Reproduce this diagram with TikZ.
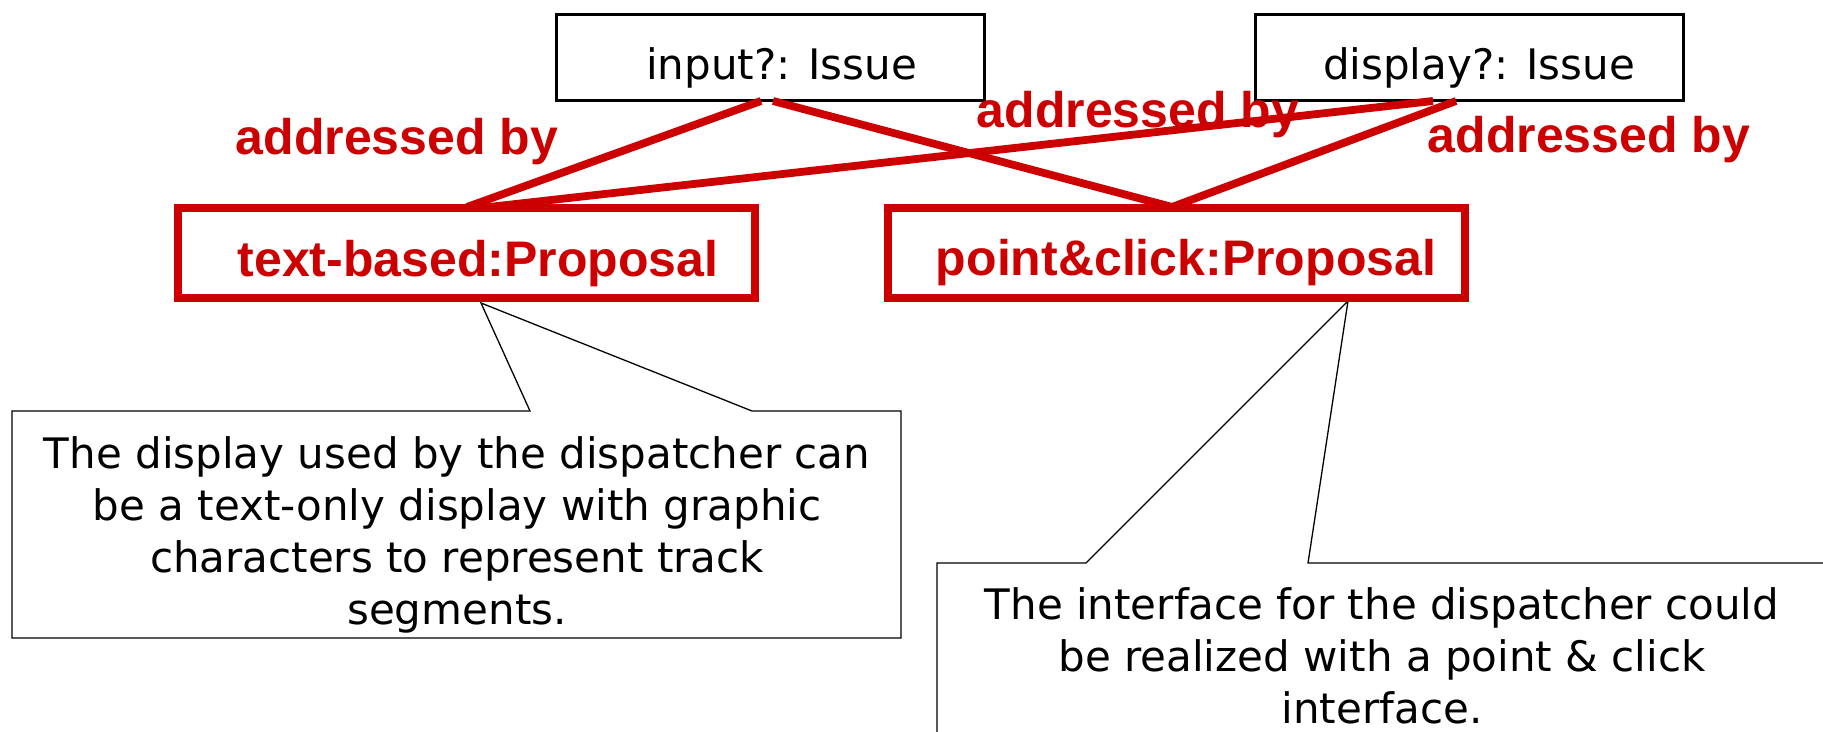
\documentclass[tikz,border=0pt]{standalone}
\usepackage{fontspec}
\setmainfont{DejaVu Sans}
\newfontfamily\arialfont{Liberation Sans}
\definecolor{myred}{RGB}{204,0,0}
\begin{document}
\begin{tikzpicture}[x=0.5pt,y=-0.5pt,
  issue/.style={draw=black,line width=1.65pt,minimum width=214pt,minimum height=43pt,inner sep=0pt,outer sep=0pt},
  proposal/.style={draw=myred,line width=4pt,minimum width=288.5pt,minimum height=45pt,inner sep=0pt,outer sep=0pt},
  lbl/.style={font=\fontsize{21}{25.75}\selectfont,inner sep=0pt,anchor=base},
  redlbl/.style={text=myred,font=\arialfont\bfseries\fontsize{25}{29}\selectfont,inner sep=0pt,anchor=base},
  link/.style={draw=myred,line width=3.9pt},
  callout/.style={draw=black,line width=0.65pt,fill=white,line join=miter},
  notetext/.style={font=\fontsize{21}{26}\selectfont,align=center,inner sep=0pt}
]
\useasboundingbox (0,0) rectangle (1823,732);
\fill[white] (0,0) rectangle (1823,732);

% callouts
\draw[callout] (12,411) -- (530,411) -- (481,303) -- (752,411) -- (901,411) -- (901,638) -- (12,638) -- cycle;
\begin{scope}
\clip (0,0) rectangle (1823,732);
\draw[callout] (937,563) -- (1086,563) -- (1348,301) -- (1308,563) -- (1840,563) -- (1840,760) -- (937,760) -- cycle;
\end{scope}
\node[notetext] (note1) at (457,535) {The display used by the dispatcher can\\be a text-only display with graphic\\characters to represent track\\segments.};
\node[notetext] (note2) at (1382,656) {The interface for the dispatcher could\\be realized with a point \& click\\interface.};

% boxes
\node[issue] (input) at (770.5,57.5) {};
\node[issue] (display) at (1469.5,57.5) {};
\node[proposal] (tb) at (466.5,253) {};
\node[proposal] (pc) at (1176.5,253) {};

% connector end points
\coordinate (inA) at (761,101);
\coordinate (inB) at (773,101);
\coordinate (diA) at (1433,101);
\coordinate (diB) at (1456,101);
\coordinate (tbA) at (467,207);
\coordinate (tbB) at (480,208);
\coordinate (pcA) at (1172,207);

\draw[link] (inA) -- (tbA);
\draw[link] (inB) -- (pcA);
\draw[link] (diA) -- (tbB);
\draw[link] (diB) -- (pcA);

% redraw proposal borders on top
\node[proposal] at (tb.center) {};
\node[proposal] at (pc.center) {};

% texts
\node[lbl] (inputtxt) at (781.5,80) {input?: Issue};
\node[lbl] (displaytxt) at (1479,80) {display?: Issue};
\node[redlbl] (tbtxt) at (478,277) {text-based:Proposal};
\node[redlbl] (pctxt) at (1186,276) {point\&click:Proposal};
\node[redlbl] (ab1) at (397,155) {addressed by};
\node[redlbl] (ab2) at (1138,128) {addressed by};
\node[redlbl] (ab3) at (1589,153) {addressed by};
\end{tikzpicture}
\end{document}
